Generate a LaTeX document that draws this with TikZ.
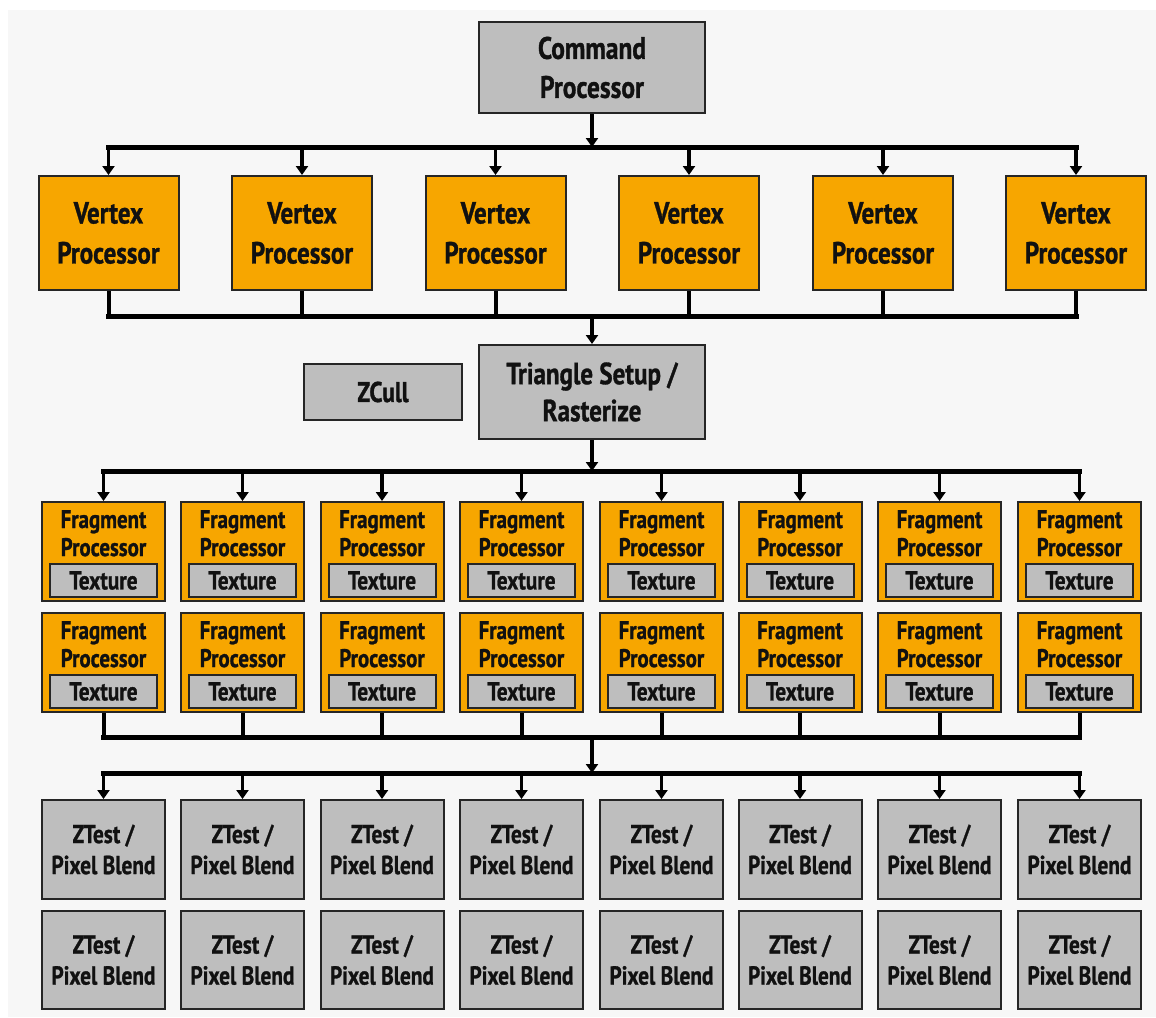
\documentclass[tikz,border=0pt]{standalone}
\usepackage{fontspec}
\setmainfont{PT Sans}[FakeStretch=0.82, BoldFeatures={FakeBold=1}]
\usetikzlibrary{arrows.meta}
\definecolor{bgc}{HTML}{F7F7F7}
\definecolor{boxgray}{HTML}{BEBEBE}
\definecolor{orangec}{HTML}{F7A600}
\definecolor{edgec}{HTML}{262626}
\definecolor{txtc}{HTML}{111111}
\begin{document}
\begin{tikzpicture}[x=1pt,y=-1pt,
  box/.style={draw=edgec, line width=2pt, inner sep=0pt, align=center, text=txtc},
  graybox/.style={box, fill=boxgray},
  orbox/.style={box, fill=orangec},
  cmdtxt/.style={font=\fontsize{31}{39}\selectfont\bfseries},
  bigtxt/.style={font=\fontsize{30.5}{40}\selectfont\bfseries},
  tritxt/.style={font=\fontsize{30.5}{37}\selectfont\bfseries},
  zctxt/.style={font=\fontsize{28.5}{37}\selectfont\bfseries},
  fragtxt/.style={font=\fontsize{25.5}{28}\selectfont\bfseries},
  textxt/.style={font=\fontsize{26}{28}\selectfont\bfseries},
  ztxt/.style={font=\fontsize{26}{31}\selectfont\bfseries},
  lbl/.style={inner sep=0pt, align=center, text=txtc, fragtxt},
  bus/.style={draw=black, line width=5pt, line cap=rect},
  drop/.style={draw=black, line width=4pt},
  arr/.style={draw=black, line width=3.5pt, -{Triangle[width=12pt,length=9pt]}},
]
\useasboundingbox (0,0) rectangle (1156,1017);
\fill[white] (0,0) rectangle (1156,1017);
\fill[bgc] (8,10) rectangle (1156,1017);

\coordinate (bus1) at (0,147);
\coordinate (bus2) at (0,316);
\coordinate (bus3) at (0,471);
\coordinate (bus4) at (0,737);
\coordinate (bus5) at (0,773);

% command processor
\node[graybox, cmdtxt, minimum width=226pt, minimum height=91pt] (cp) at (592,67.5) {Command\\Processor};

% vertex processors
\foreach \i/\x in {1/108.5,2/302,3/495.5,4/689,5/883,6/1076}{
  \node[orbox, bigtxt, minimum width=140pt, minimum height=114pt] (v\i) at (\x,233) {Vertex\\Processor};
}

% triangle setup and zcull
\node[graybox, tritxt, minimum width=226pt, minimum height=94pt] (tri) at (592,392) {Triangle Setup /\\Rasterize};
\node[graybox, zctxt, minimum width=158pt, minimum height=56pt] (zc) at (383,392) {ZCull};

% fragment processors and ztest units
\foreach \i/\x in {1/103.5,2/242.5,3/382,4/521.5,5/661.5,6/800,7/939.5,8/1079.5}{
  \node[orbox, minimum width=123pt, minimum height=99pt] (fa\i) at (\x,551.5) {};
  \node[lbl, anchor=north] (fal\i) at ([yshift=-9pt]fa\i.north) {Fragment\\Processor};
  \node[graybox, textxt, minimum width=107pt, minimum height=33pt] (ta\i) at ([yshift=21.5pt]fa\i.south) {Texture};
  \node[orbox, minimum width=123pt, minimum height=99pt] (fb\i) at (\x,662.5) {};
  \node[lbl, anchor=north] (fbl\i) at ([yshift=-9pt]fb\i.north) {Fragment\\Processor};
  \node[graybox, textxt, minimum width=107pt, minimum height=33pt] (tb\i) at ([yshift=21.5pt]fb\i.south) {Texture};
  \node[graybox, ztxt, minimum width=123pt, minimum height=99pt] (za\i) at (\x,849.5) {ZTest /\\Pixel Blend};
  \node[graybox, ztxt, minimum width=123pt, minimum height=98pt] (zb\i) at (\x,960) {ZTest /\\Pixel Blend};
}

% connectors: command -> vertex
\draw[arr] (cp.south) -- (cp.south |- bus1);
\draw[bus] (v1.north |- bus1) -- (v6.north |- bus1);
\foreach \i in {1,...,6}{
  \draw[arr] (v\i.north |- bus1) -- (v\i.north);
  \draw[drop] (v\i.south) -- (v\i.south |- bus2);
}
\draw[bus] (v1.south |- bus2) -- (v6.south |- bus2);
\draw[arr] (tri.north |- bus2) -- (tri.north);

% triangle -> fragments
\draw[arr] (tri.south) -- (tri.south |- bus3);
\draw[bus] (fa1.north |- bus3) -- (fa8.north |- bus3);
\foreach \i in {1,...,8}{
  \draw[arr] (fa\i.north |- bus3) -- (fa\i.north);
  \draw[drop] (fb\i.south) -- (fb\i.south |- bus4);
}
\draw[bus] (fb1.south |- bus4) -- (fb8.south |- bus4);
\draw[arr] (tri.south |- bus4) -- (tri.south |- bus5);
\draw[bus] (za1.north |- bus5) -- (za8.north |- bus5);
\foreach \i in {1,...,8}{
  \draw[arr] (za\i.north |- bus5) -- (za\i.north);
}
\end{tikzpicture}
\end{document}
